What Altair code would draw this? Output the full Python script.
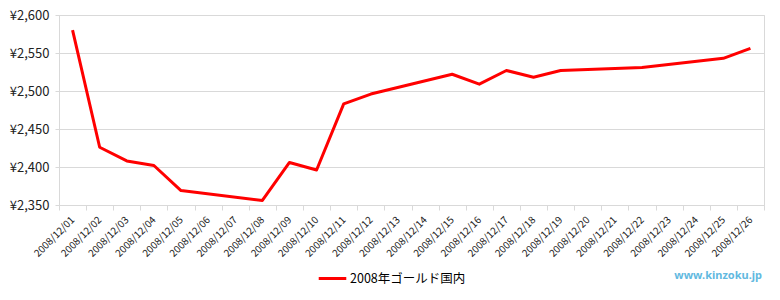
import altair as alt
import pandas as pd

all_dates = [f"2008/12/{d:02d}" for d in range(1, 27)]
trade_dates = ["2008/12/01", "2008/12/02", "2008/12/03", "2008/12/04", "2008/12/05",
               "2008/12/08", "2008/12/09", "2008/12/10", "2008/12/11", "2008/12/12",
               "2008/12/15", "2008/12/16", "2008/12/17", "2008/12/18", "2008/12/19",
               "2008/12/22", "2008/12/25", "2008/12/26"]
prices = [2580, 2426, 2408, 2402, 2369,
          2356, 2406, 2396, 2483, 2496,
          2522, 2509, 2527, 2518, 2527,
          2531, 2543, 2556]
series_name = "2008年ゴールド国内"
y_ticks = [2350, 2400, 2450, 2500, 2550, 2600]

df = pd.DataFrame({"date": trade_dates, "price": prices, "series": series_name})

FONT = "Noto Sans CJK JP"

line = alt.Chart(df).mark_line(strokeWidth=3, strokeJoin="round").encode(
    x=alt.X("date:O", bandPosition=0.5,
            scale=alt.Scale(type="band", domain=all_dates, paddingInner=0, paddingOuter=0),
            axis=alt.Axis(title=None, labelAngle=-45, labelAlign="right", labelBaseline="middle",
                          labelFontSize=10, labelColor="#222222", labelFont=FONT,
                          tickBand="extent", tickColor="#d9d9d9", tickSize=5,
                          domainColor="#d9d9d9", grid=False, labelPadding=8)),
    y=alt.Y("price:Q", scale=alt.Scale(domain=[2350, 2600], nice=False, zero=False),
            axis=alt.Axis(title=None, values=y_ticks,
                          labelExpr="'¥' + format(datum.value, ',')",
                          labelFontSize=13, labelColor="#222222", labelFont=FONT,
                          tickColor="#d9d9d9", tickSize=4, labelPadding=6,
                          domainColor="#d9d9d9", gridColor="#d9d9d9")),
    color=alt.Color("series:N", scale=alt.Scale(range=["#ff0000"]),
                    legend=alt.Legend(title=None, orient="none", legendX=258, legendY=248,
                                      symbolType="stroke", symbolSize=760, symbolStrokeWidth=3,
                                      labelFontSize=12.5, labelFont=FONT, labelColor="#000000",
                                      labelOffset=2))
)

wm = alt.Chart(pd.DataFrame({"t": ["www.kinzoku.jp"]})).mark_text(
    align="right", baseline="middle", fontSize=11, fontWeight="bold",
    color="#62b9df", font="Noto Sans"
).encode(text="t:N", x=alt.value(703), y=alt.value(261))

chart = alt.layer(line, wm).properties(
    width=705, height=190,
    padding={"left": 59, "top": 15, "right": 16, "bottom": 95},
    autosize=alt.AutoSizeParams(type="none"),
    background="white"
).configure_view(stroke="#d9d9d9")

chart.save("out.html", embed_options={"renderer": "svg", "actions": False})
